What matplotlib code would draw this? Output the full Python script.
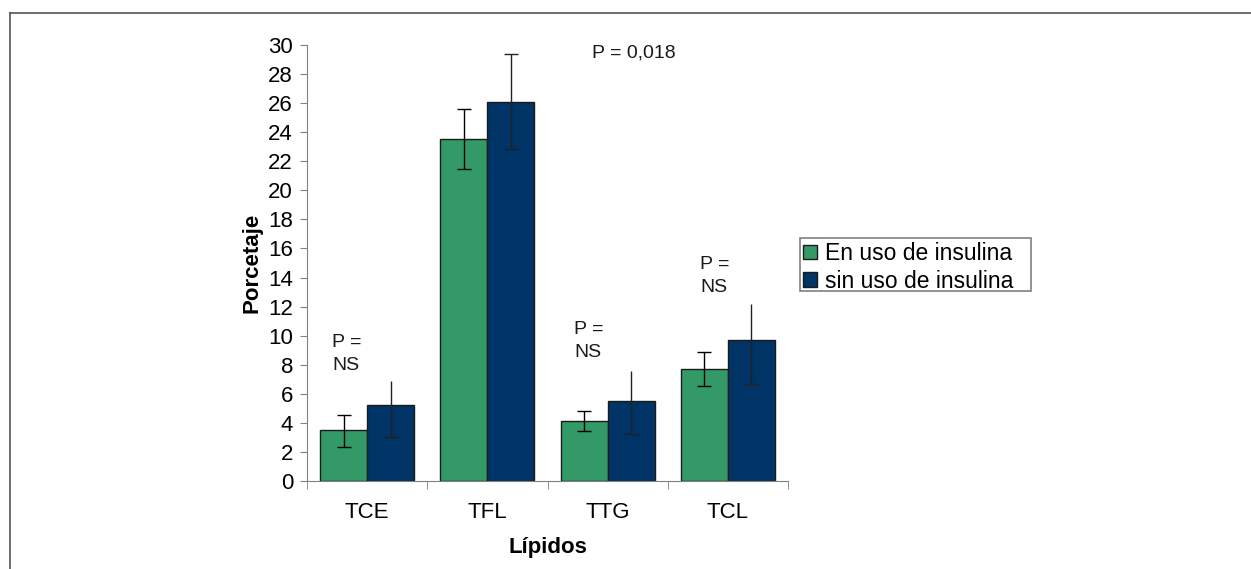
import matplotlib.pyplot as plt
from matplotlib.lines import Line2D
from matplotlib.patches import Rectangle
import numpy as np

plt.rcParams['font.family'] = ['Liberation Sans', 'DejaVu Sans']

lipidos = ['TCE', 'TFL', 'TTG', 'TCL']
con_insulina = [3.5, 23.5, 4.1, 7.7]
con_err_low = [1.15, 2.05, 0.65, 1.15]
con_err_high = [1.05, 2.1, 0.75, 1.2]
sin_insulina = [5.2, 26.1, 5.5, 9.7]
sin_err_low = [2.2, 3.25, 2.3, 3.0]
sin_err_high = [1.7, 3.3, 2.1, 2.5]
p_labels = ['P =\nNS', 'P = 0,018', 'P =\nNS', 'P =\nNS']
p_pos = [(-0.29, 10.1), (1.87, 30.0), (1.72, 11.0), (2.77, 15.5)]

fig = plt.figure(figsize=(12.51, 5.69), dpi=100)
ax = fig.add_axes([307 / 1251, 1 - 481 / 569, 481 / 1251, 436 / 569])

x = np.arange(len(lipidos))
w = 0.39
ax.bar(x - w / 2, con_insulina, w, color='#339966', edgecolor='#1a1a1a', linewidth=1,
       label='En uso de insulina', zorder=2)
ax.bar(x + w / 2, sin_insulina, w, color='#003366', edgecolor='#1a1a1a', linewidth=1,
       label='sin uso de insulina', zorder=2)
ax.errorbar(x - w / 2, con_insulina, yerr=[con_err_low, con_err_high], fmt='none',
            ecolor='black', elinewidth=1, capsize=5, zorder=3)
eb = ax.errorbar(x + w / 2, sin_insulina, yerr=[sin_err_low, sin_err_high], fmt='none',
                 ecolor='#222222', elinewidth=1, capsize=5, zorder=3)
# en el original solo TFL lleva tope superior en la serie azul
eb[1][1].set_markevery([1])

for (px, py), txt in zip(p_pos, p_labels):
    ax.text(px, py, txt, fontsize=14, va='top', ha='left', linespacing=1.45, color='#1a1a1a')

ax.set_xlim(-0.5, 3.5)
ax.set_ylim(0, 30)
ax.set_yticks(range(0, 31, 2))
ax.set_xticks(x)
ax.set_xticklabels(lipidos, fontsize=16)
ax.set_xticks(np.arange(-0.5, 4, 1), minor=True)
ax.tick_params(axis='x', which='major', length=0, pad=15)
ax.tick_params(axis='x', which='minor', length=6, color='#808080', direction='out')
ax.tick_params(axis='y', labelsize=16, length=5, color='#808080', pad=5)
for side in ['top', 'right']:
    ax.spines[side].set_visible(False)
for side in ['left', 'bottom']:
    ax.spines[side].set_color('#808080')

ax.set_ylabel('Porcetaje', fontsize=16, fontweight='bold', labelpad=4)
ax.set_xlabel('Lípidos', fontsize=16, fontweight='bold', labelpad=10)

ax.legend(loc='upper left', bbox_to_anchor=(803 / 1251, 1 - 242 / 569),
          bbox_transform=fig.transFigure, fontsize=16.5, frameon=False,
          handlelength=0.6, handleheight=0.6, handletextpad=0.35,
          borderpad=0, labelspacing=0.2, borderaxespad=0)
fig.add_artist(Rectangle((800 / 1251, 1 - 291 / 569), 231 / 1251, 53 / 569,
                         transform=fig.transFigure, fill=False,
                         edgecolor='#808080', linewidth=1.2))

# marco exterior (solo izquierda y arriba)
fig.add_artist(Line2D([10 / 1251, 10 / 1251], [0, 1 - 13 / 569], color='#555555', lw=1.2))
fig.add_artist(Line2D([10 / 1251, 1], [1 - 13 / 569, 1 - 13 / 569], color='#555555', lw=1.2))

fig.savefig('out.png', dpi=100)
